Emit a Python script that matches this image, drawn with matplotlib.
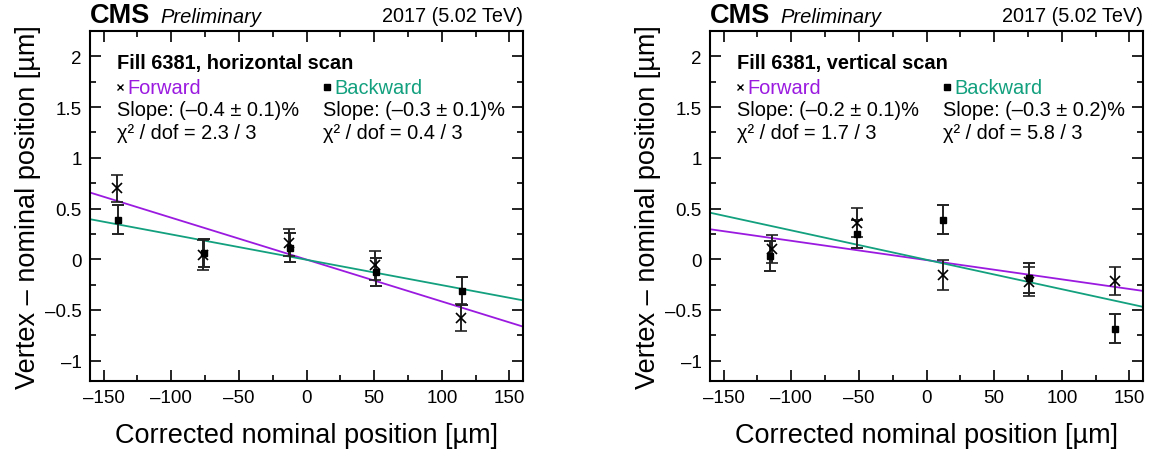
import numpy as np
import matplotlib
matplotlib.use("Agg")
import matplotlib.pyplot as plt
from matplotlib.ticker import MultipleLocator, FuncFormatter

plt.rcParams['font.family'] = ['Liberation Sans', 'DejaVu Sans']

purple = '#9b1ae0'
green = '#12a07e'

# horizontal scan (left)
h_x_fwd = [-140, -76.5, -13, 50.5, 114]
h_y_fwd = [0.70, 0.04, 0.165, -0.06, -0.575]
h_e_fwd = [0.135, 0.15, 0.13, 0.14, 0.135]
h_x_bwd = [-139, -76, -12, 51, 115]
h_y_bwd = [0.39, 0.06, 0.115, -0.125, -0.31]
h_e_bwd = [0.14, 0.14, 0.14, 0.14, 0.14]
h_fit_fwd = (-0.00413, -0.003)
h_fit_bwd = (-0.0025, -0.005)

# vertical scan (right)
v_x_fwd = [-114.5, -51.5, 12, 75.5, 139]
v_y_fwd = [0.10, 0.36, -0.155, -0.22, -0.215]
v_e_fwd = [0.14, 0.145, 0.145, 0.14, 0.14]
v_x_bwd = [-115.5, -51.5, 12, 76, 139]
v_y_bwd = [0.03, 0.25, 0.39, -0.185, -0.685]
v_e_bwd = [0.15, 0.14, 0.145, 0.145, 0.145]
v_fit_fwd = (-0.0019, -0.008)
v_fit_bwd = (-0.0029, -0.005)

panels = [
    dict(title="Fill 6381, horizontal scan",
         xf=h_x_fwd, yf=h_y_fwd, ef=h_e_fwd, xb=h_x_bwd, yb=h_y_bwd, eb=h_e_bwd,
         ff=h_fit_fwd, fb=h_fit_bwd,
         sf="Slope: (–0.4 ± 0.1)%", sb="Slope: (–0.3 ± 0.1)%",
         cf="χ² / dof = 2.3 / 3", cb="χ² / dof = 0.4 / 3"),
    dict(title="Fill 6381, vertical scan",
         xf=v_x_fwd, yf=v_y_fwd, ef=v_e_fwd, xb=v_x_bwd, yb=v_y_bwd, eb=v_e_bwd,
         ff=v_fit_fwd, fb=v_fit_bwd,
         sf="Slope: (–0.2 ± 0.1)%", sb="Slope: (–0.3 ± 0.2)%",
         cf="χ² / dof = 1.7 / 3", cb="χ² / dof = 5.8 / 3"),
]

fig = plt.figure(figsize=(11.52, 4.52), dpi=100)
lefts = [90 / 1152, 710 / 1152]
width = 433 / 1152
bottom = 1 - 382 / 452
height = 350 / 452

def dash_fmt(v, pos):
    s = ('%g' % v)
    return s.replace('-', '–')

fs = 14.4

for p, l in zip(panels, lefts):
    ax = fig.add_axes([l, bottom, width, height])
    ax.set_xlim(-160, 160)
    ax.set_ylim(-1.2, 2.25)
    xs = np.array([-160, 160])
    ax.plot(xs, p['ff'][0] * xs + p['ff'][1], color=purple, lw=1.3, zorder=2)
    ax.plot(xs, p['fb'][0] * xs + p['fb'][1], color=green, lw=1.3, zorder=2)
    ax.errorbar(p['xf'], p['yf'], yerr=p['ef'], fmt='x', color='black', ms=7, mew=1.2,
                ecolor='#222222', elinewidth=1.4, capsize=4, capthick=1.4, zorder=3)
    ax.errorbar(p['xb'], p['yb'], yerr=p['eb'], fmt='s', color='black', ms=5,
                ecolor='#222222', elinewidth=1.4, capsize=4, capthick=1.4, zorder=3)

    ax.xaxis.set_major_locator(MultipleLocator(50))
    ax.xaxis.set_minor_locator(MultipleLocator(25))
    ax.yaxis.set_major_locator(MultipleLocator(0.5))
    ax.yaxis.set_minor_locator(MultipleLocator(0.25))
    ax.xaxis.set_major_formatter(FuncFormatter(dash_fmt))
    ax.yaxis.set_major_formatter(FuncFormatter(dash_fmt))
    ax.tick_params(which='both', direction='in', top=True, right=True, labelsize=13.5, width=1.2)
    ax.tick_params(which='major', length=8, pad=6)
    ax.tick_params(which='minor', length=4)
    for s in ax.spines.values():
        s.set_linewidth(1.5)

    ax.set_xlabel("Corrected nominal position [µm]", fontsize=19.5, labelpad=11)
    ax.set_ylabel("Vertex – nominal position [µm]", fontsize=19.5, labelpad=3)

    ax.text(0, 1.026, "CMS", transform=ax.transAxes, fontsize=19.5, fontweight='bold',
            ha='left', va='baseline')
    ax.text(0.163, 1.026, "Preliminary", transform=ax.transAxes, fontsize=14.5,
            style='italic', ha='left', va='baseline')
    ax.text(1.0, 1.03, "2017 (5.02 TeV)", transform=ax.transAxes, fontsize=14.3,
            ha='right', va='baseline')

    ax.text(0.062, 0.911, p['title'], transform=ax.transAxes, fontsize=fs,
            fontweight='bold', va='center')
    ax.plot([0.07], [0.84], marker='x', color='black', ms=4, mew=1, transform=ax.transAxes)
    ax.text(0.087, 0.84, "Forward", transform=ax.transAxes, fontsize=fs, color=purple,
            va='center')
    ax.plot([0.548], [0.84], marker='s', color='black', ms=4, transform=ax.transAxes)
    ax.text(0.564, 0.84, "Backward", transform=ax.transAxes, fontsize=fs, color=green,
            va='center')
    ax.text(0.062, 0.777, p['sf'], transform=ax.transAxes, fontsize=fs, va='center')
    ax.text(0.537, 0.777, p['sb'], transform=ax.transAxes, fontsize=fs, va='center')
    ax.text(0.062, 0.71, p['cf'], transform=ax.transAxes, fontsize=fs, va='center')
    ax.text(0.537, 0.71, p['cb'], transform=ax.transAxes, fontsize=fs, va='center')

fig.savefig("out.png", dpi=100)
